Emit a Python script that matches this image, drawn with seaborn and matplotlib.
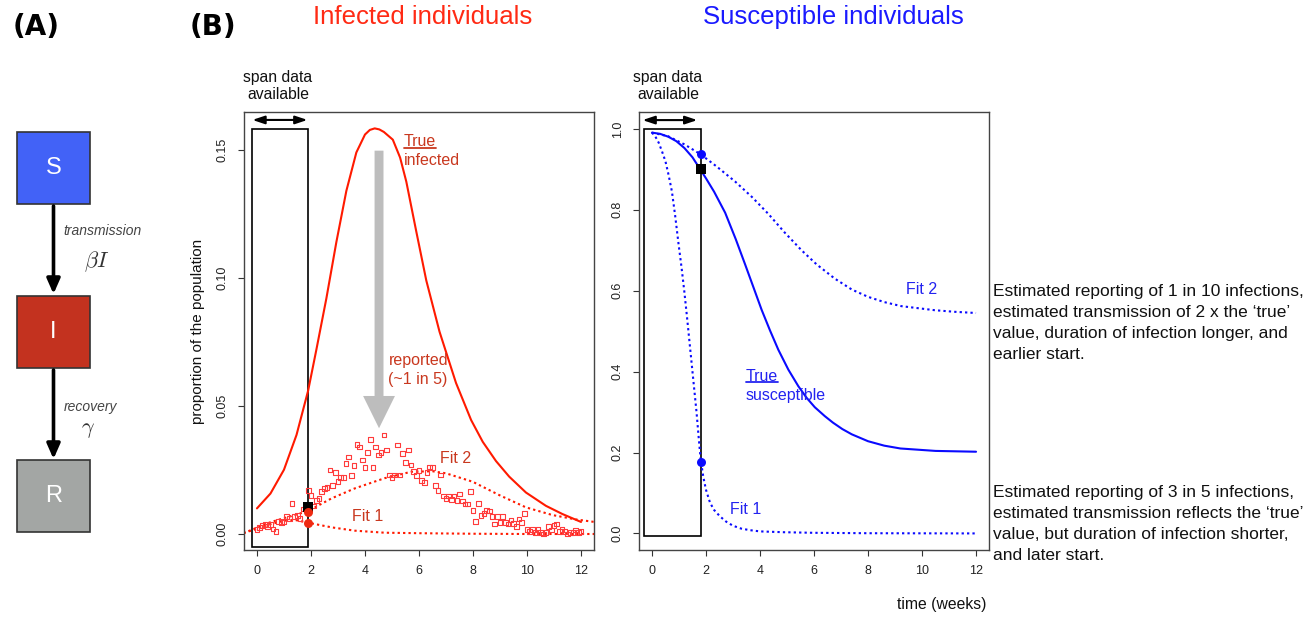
import matplotlib
matplotlib.use("Agg")
import matplotlib.pyplot as plt
import numpy as np
import seaborn as sns
from matplotlib.patches import Rectangle
from matplotlib.lines import Line2D

# ---------------------------------------------------------------
# Values
# ---------------------------------------------------------------
# Infected panel
true_i_weeks = [0, 0.5, 1.0, 1.465, 1.895, 2.2, 2.57, 2.94, 3.31, 3.68, 4.0, 4.18,
                4.36, 4.53, 4.7, 5.03, 5.3, 5.53, 5.9, 6.27, 6.76, 7.37, 7.93,
                8.36, 8.85, 9.34, 9.96, 10.7, 11.31, 12.0]
true_infected = [0.0100, 0.0158, 0.0251, 0.0387, 0.0560, 0.0720, 0.0920, 0.1140,
                 0.1340, 0.1490, 0.1560, 0.1578, 0.1584, 0.1580, 0.1570, 0.1540,
                 0.1470, 0.1376, 0.1181, 0.0990, 0.0790, 0.0590, 0.0445, 0.0360,
                 0.0285, 0.0224, 0.0162, 0.0110, 0.0078, 0.0047]

fit2_i_weeks = [-0.5, 0, 0.5, 1.0, 1.4, 1.9, 2.76, 3.62, 4.73, 5.71, 6.5, 7.0,
                7.99, 8.97, 9.96, 10.94, 11.8, 12.5]
fit2_infected = [0.0003, 0.0025, 0.0046, 0.0062, 0.0074, 0.0090, 0.0139, 0.0178,
                 0.0218, 0.0243, 0.0245, 0.0237, 0.0204, 0.0152, 0.0104, 0.0074,
                 0.0057, 0.0047]

fit1_i_weeks = [-0.5, 0, 0.5, 1.0, 1.4, 1.9, 2.76, 3.62, 4.73, 6.08, 8.0, 10.0, 12.5]
fit1_infected = [0.0004, 0.0020, 0.0038, 0.0052, 0.0055, 0.0044, 0.0026, 0.0013,
                 0.0005, 0.0003, 0.0001, 0.0, 0.0]

# reported cases, one every 0.1 week from 0 to 12
report_weeks = np.arange(121) / 10
reported = [
    .0018, .0025, .0034, .0038, .0029, .0038, .0020, .0009, .0048, .0044,
    .0048, .0068, .0061, .0120, .0068, .0072, .0061, .0098, .0098, .0169,
    .0150, .0109, .0130, .0139, .0165, .0178, .0182, .0250, .0189, .0240,
    .0204, .0221, .0221, .0276, .0300, .0228, .0267, .0350, .0339, .0289,
    .0259, .0319, .0370, .0259, .0339, .0309, .0318, .0387, .0328, .0230,
    .0221, .0230, .0348, .0230, .0315, .0279, .0328, .0270, .0243, .0228,
    .0247, .0208, .0200, .0240, .0262, .0259, .0189, .0169, .0230, .0148,
    .0139, .0148, .0135, .0148, .0130, .0156, .0129, .0117, .0117, .0165,
    .0091, .0048, .0120, .0072, .0081, .0091, .0090, .0068, .0039, .0068,
    .0046, .0068, .0044, .0039, .0055, .0042, .0029, .0059, .0044, .0081,
    .0018, .0009, .0018, .0007, .0018, .0007, .0000, .0007, .0029, .0016,
    .0033, .0039, .0009, .0018, .0009, .0000, .0007, .0007, .0016, .0007, .0010,
]

span_i_weeks = [-0.2, 1.9]
span_i_range = [-0.005, 0.158]
obs_i_week = 1.9
obs_i_value = 0.0104
fit_i_at_obs = [0.0086, 0.0044]

# Susceptible panel
true_s_weeks = [0, 0.3, 0.6, 0.9, 1.2, 1.5, 1.78, 2.0, 2.3, 2.71, 3.1, 3.45, 3.75,
                4.06, 4.37, 4.68, 5.05, 5.42, 5.73, 6.03, 6.4, 6.7, 7.05, 7.4,
                8.0, 8.6, 9.2, 10.5, 12.0]
true_susceptible = [0.991, 0.988, 0.981, 0.970, 0.953, 0.930, 0.901, 0.878, 0.845,
                    0.793, 0.728, 0.665, 0.610, 0.553, 0.502, 0.454, 0.405, 0.364,
                    0.335, 0.312, 0.290, 0.274, 0.258, 0.245, 0.228, 0.217, 0.210,
                    0.204, 0.202]

fit2_s_weeks = [0, 0.6, 1.2, 1.81, 2.4, 3.08, 3.7, 4.31, 4.9, 5.54, 6.1, 6.77,
                7.4, 8.0, 8.6, 9.23, 10.46, 11.2, 12.0]
fit2_susceptible = [0.991, 0.982, 0.962, 0.937, 0.907, 0.870, 0.832, 0.790, 0.745,
                    0.700, 0.665, 0.630, 0.603, 0.585, 0.572, 0.562, 0.552, 0.548,
                    0.545]

fit1_s_weeks = [0, 0.12, 0.25, 0.37, 0.5, 0.62, 0.74, 0.86, 0.98, 1.1, 1.2, 1.29,
                1.38, 1.47, 1.56, 1.65, 1.72, 1.8, 1.9, 2.0, 2.15, 2.3, 2.52,
                2.75, 3.0, 3.3, 3.63, 4.0, 4.86, 6.0, 8.0, 12.0]
fit1_susceptible = [0.991, 0.982, 0.966, 0.945, 0.920, 0.885, 0.845, 0.785, 0.718,
                    0.655, 0.597, 0.540, 0.480, 0.420, 0.360, 0.300, 0.245, 0.185,
                    0.140, 0.108, 0.076, 0.058, 0.042, 0.029, 0.019, 0.012, 0.008,
                    0.005, 0.003, 0.0015, 0.0005, 0.0]

span_s_weeks = [-0.3, 1.8]
span_s_range = [-0.007, 1.0]
obs_s_week = 1.8
obs_s_value = 0.90
fit_s_at_obs = [0.937, 0.176]

i_yticks = [0.0, 0.05, 0.10, 0.15]
s_yticks = [0.0, 0.2, 0.4, 0.6, 0.8, 1.0]
week_ticks = [0, 2, 4, 6, 8, 10, 12]

fit_notes = [
    "Estimated reporting of 1 in 10 infections,\n"
    "estimated transmission of 2 x the \u2018true\u2019\n"
    "value, duration of infection longer, and\n"
    "earlier start.",
    "Estimated reporting of 3 in 5 infections,\n"
    "estimated transmission reflects the \u2018true\u2019\n"
    "value, but duration of infection shorter,\n"
    "and later start.",
]

# ---------------------------------------------------------------
RED = "#ff1a00"
RED_TXT = "#c9381f"
RED_PT = "#ff3b3b"
BLUE = "#0a0aff"
BLUE_TXT = "#2323f0"
DOT = (0, (1.1, 1.5))

sns.set_theme(style="white")
plt.rcParams["font.family"] = ["Liberation Sans", "DejaVu Sans"]
plt.rcParams["mathtext.fontset"] = "cm"

W, H = 1315, 618
fig = plt.figure(figsize=(W / 100, H / 100), dpi=100)


def fx(px):
    return px / W


def fy(py):
    return 1 - py / H


ax_i = fig.add_axes([fx(244), fy(550), 350 / W, 438 / H])
ax_s = fig.add_axes([fx(639), fy(550), 350 / W, 438 / H])


def style_axes(ax, ylim, yticks, fmt):
    ax.set_xlim(-0.48, 12.48)
    ax.set_ylim(*ylim)
    ax.set_xticks(week_ticks)
    ax.set_xticklabels([str(t) for t in week_ticks])
    ax.set_yticks(yticks)
    ax.set_yticklabels([fmt.format(v) for v in yticks], rotation=90, va="center")
    ax.tick_params(bottom=True, left=True, direction="out", length=4, width=0.8,
                   labelsize=9, pad=7, colors="#333333", labelcolor="#222222")
    for sp in ax.spines.values():
        sp.set_color("#444444")
        sp.set_linewidth(1.0)
    ax.set_xlabel("")
    ax.set_ylabel("")


# ---------------- infected panel ----------------
ax = ax_i
ax.add_patch(Rectangle((span_i_weeks[0], span_i_range[0]),
                       span_i_weeks[1] - span_i_weeks[0],
                       span_i_range[1] - span_i_range[0],
                       fill=False, ec="black", lw=1.2, zorder=1))
ax.annotate("", xy=(span_i_weeks[0] + 0.03, 0.1617), xytext=(span_i_weeks[1] - 0.03, 0.1617),
            arrowprops=dict(arrowstyle="<|-|>,head_length=0.6,head_width=0.2",
                            lw=1.5, color="black", shrinkA=0, shrinkB=0))
sns.lineplot(x=true_i_weeks, y=true_infected, ax=ax, color=RED, lw=1.5,
             estimator=None, sort=False)
sns.lineplot(x=fit2_i_weeks, y=fit2_infected, ax=ax, color=RED, lw=1.5,
             linestyle=DOT, estimator=None, sort=False)
sns.lineplot(x=fit1_i_weeks, y=fit1_infected, ax=ax, color=RED, lw=1.5,
             linestyle=DOT, estimator=None, sort=False)
sns.scatterplot(x=report_weeks, y=reported, ax=ax, marker="s", s=11,
                color=RED_PT, facecolor="none", edgecolor=RED_PT, linewidth=0.8,
                zorder=3)
sns.scatterplot(x=[obs_i_week], y=[obs_i_value], ax=ax, marker="s", s=55,
                color="black", linewidth=0, zorder=4)
sns.scatterplot(x=[obs_i_week] * 2, y=fit_i_at_obs, ax=ax, marker="o", s=42,
                color="#ee2a12", linewidth=0, zorder=5)
ax.arrow(4.52, 0.1497, 0, 0.0413 - 0.1497, width=0.33, head_width=1.18,
         head_length=0.0126, length_includes_head=True, color="#bdbdbd", lw=0,
         zorder=2)
t_true_i = ax.text(5.43, 0.1532, "True", color=RED_TXT, fontsize=11.5,
                   ha="left", va="center")
ax.text(5.43, 0.1458, "infected", color=RED_TXT, fontsize=11.5, ha="left", va="center")
ax.text(4.87, 0.0677, "reported", color=RED_TXT, fontsize=11.5, ha="left", va="center")
ax.text(4.87, 0.0604, "(~1 in 5)", color=RED_TXT, fontsize=11.5, ha="left", va="center")
ax.text(7.37, 0.0293, "Fit 2", color=RED_TXT, fontsize=11.5, ha="center", va="center")
ax.text(4.11, 0.0068, "Fit 1", color=RED_TXT, fontsize=11.5, ha="center", va="center")
style_axes(ax, (-0.00625, 0.1648), i_yticks, "{:.2f}")
ax.set_ylabel("proportion of the population", fontsize=11, color="#111111")
ax.yaxis.set_label_coords(-0.11, 0.5)

# ---------------- susceptible panel ----------------
ax = ax_s
ax.add_patch(Rectangle((span_s_weeks[0], span_s_range[0]),
                       span_s_weeks[1] - span_s_weeks[0],
                       span_s_range[1] - span_s_range[0],
                       fill=False, ec="black", lw=1.2, zorder=1))
ax.annotate("", xy=(span_s_weeks[0] - 0.05, 1.022), xytext=(span_s_weeks[1] - 0.12, 1.022),
            arrowprops=dict(arrowstyle="<|-|>,head_length=0.6,head_width=0.2",
                            lw=1.5, color="black", shrinkA=0, shrinkB=0))
sns.lineplot(x=true_s_weeks, y=true_susceptible, ax=ax, color=BLUE, lw=1.5,
             estimator=None, sort=False)
sns.lineplot(x=fit2_s_weeks, y=fit2_susceptible, ax=ax, color=BLUE, lw=1.5,
             linestyle=DOT, estimator=None, sort=False)
sns.lineplot(x=fit1_s_weeks, y=fit1_susceptible, ax=ax, color=BLUE, lw=1.5,
             linestyle=DOT, estimator=None, sort=False)
sns.scatterplot(x=[obs_s_week], y=[obs_s_value], ax=ax, marker="s", s=55,
                color="black", linewidth=0, zorder=4)
sns.scatterplot(x=[obs_s_week] * 2, y=fit_s_at_obs, ax=ax, marker="o", s=42,
                color=BLUE, linewidth=0, zorder=5)
t_true_s = ax.text(3.47, 0.388, "True", color=BLUE_TXT, fontsize=11.5,
                   ha="left", va="center")
ax.text(3.47, 0.341, "susceptible", color=BLUE_TXT, fontsize=11.5, ha="left", va="center")
ax.text(9.97, 0.602, "Fit 2", color=BLUE_TXT, fontsize=11.5, ha="center", va="center")
ax.text(3.47, 0.059, "Fit 1", color=BLUE_TXT, fontsize=11.5, ha="center", va="center")
style_axes(ax, (-0.041, 1.042), s_yticks, "{:.1f}")

# ---------------- figure level text ----------------
fig.text(fx(423), fy(17), "Infected individuals", color="#ff2a14", fontsize=18.5,
         ha="center", va="center")
fig.text(fx(833), fy(17), "Susceptible individuals", color="#1a1aff", fontsize=18.5,
         ha="center", va="center")
for cx in (278, 668):
    fig.text(fx(cx), fy(86), "span data\navailable", fontsize=11.3, ha="center",
             va="center", linespacing=1.15, color="#111111")
fig.text(fx(942), fy(605), "time (weeks)", fontsize=11.3, ha="center", va="center",
         color="#111111")
for cy, note in zip((323, 524), fit_notes):
    fig.text(fx(993), fy(cy), note, fontsize=12.5, ha="left", va="center",
             linespacing=1.48, color="#111111")
for cx, tag in ((36, "(A)"), (213, "(B)")):
    fig.text(fx(cx), fy(27), tag, fontsize=20, fontweight="bold", ha="center",
             va="center", family="DejaVu Sans", color="black")

# ---------------- panel A: SIR diagram ----------------
ax_a = fig.add_axes([0, 0, 180 / W, 1])
ax_a.set_xlim(0, 180)
ax_a.set_ylim(H, 0)
ax_a.axis("off")
boxes = [("S", 132, "#4262f7"), ("I", 296, "#c3321f"), ("R", 460, "#a3a6a4")]
for label, top, colour in boxes:
    ax_a.add_patch(Rectangle((17, top), 73, 72, fc=colour, ec="#333333", lw=1.2))
    ax_a.text(53.5, top + 36, label, color="white", fontsize=17, ha="center",
              va="center")
for y0, y1 in ((206, 294), (370, 459)):
    ax_a.annotate("", xy=(53.5, y1), xytext=(53.5, y0),
                  arrowprops=dict(arrowstyle="-|>,head_length=0.75,head_width=0.33",
                                  lw=2.6, color="black", shrinkA=0, shrinkB=0))
ax_a.text(102, 231, "transmission", fontsize=10, style="italic", color="#444444",
          ha="center", va="center")
ax_a.text(97, 262, r"$\beta I$", fontsize=16, color="#333333", ha="center", va="center")
ax_a.text(91, 407, "recovery", fontsize=10, style="italic", color="#444444",
          ha="center", va="center")
ax_a.text(88, 430, r"$\gamma$", fontsize=16, color="#333333", ha="center", va="center")

# underline the "True" labels
fig.canvas.draw()
renderer = fig.canvas.get_renderer()
for txt, colour in ((t_true_i, RED_TXT), (t_true_s, BLUE_TXT)):
    bb = txt.get_window_extent(renderer).transformed(fig.transFigure.inverted())
    yline = bb.y0 + 0.1 * bb.height
    fig.add_artist(Line2D([bb.x0, bb.x1], [yline, yline], color=colour, lw=1.3,
                          transform=fig.transFigure))

fig.savefig("out.png", dpi=100)
